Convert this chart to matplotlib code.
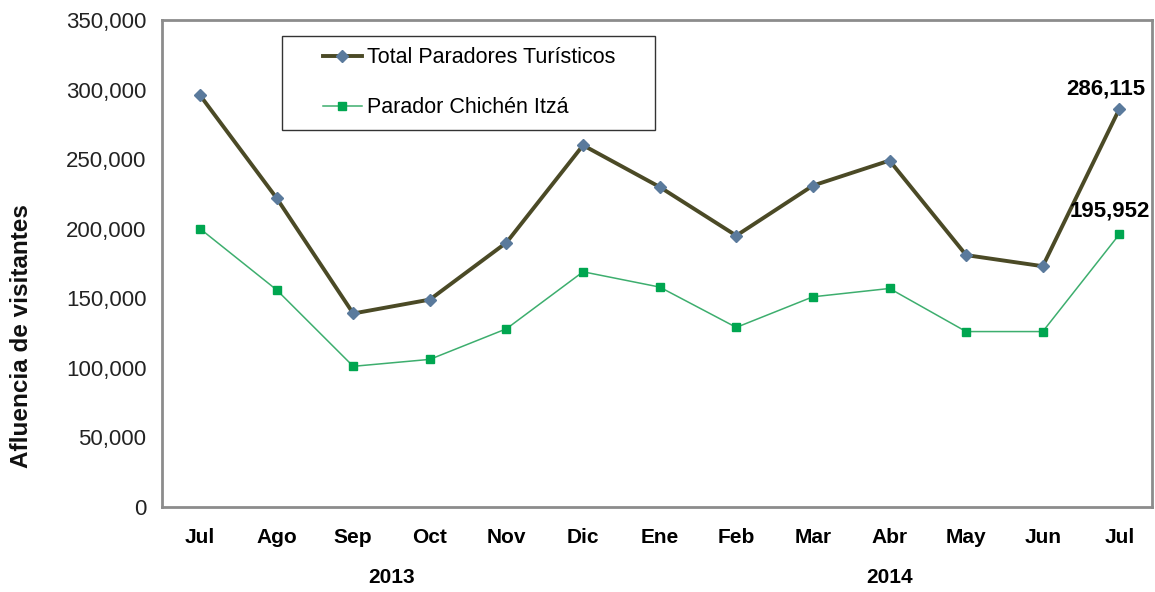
import matplotlib
matplotlib.use("Agg")
import matplotlib.pyplot as plt
from matplotlib.patches import Rectangle
from matplotlib.ticker import FuncFormatter

plt.rcParams["font.family"] = ["Liberation Sans", "DejaVu Sans"]

months = ["Jul", "Ago", "Sep", "Oct", "Nov", "Dic", "Ene", "Feb", "Mar", "Abr", "May", "Jun", "Jul"]
total = [296000, 222000, 139000, 149000, 190000, 260000, 230000, 195000, 231000, 249000, 181000, 173000, 286115]
chichen = [200000, 156000, 101000, 106000, 128000, 169000, 158000, 129000, 151000, 157000, 126000, 126000, 195952]
years = ["2013", "2014"]
year_pos = [2.5, 9]

x = list(range(len(months)))

fig = plt.figure(figsize=(11.55, 5.92), dpi=100)
ax = fig.add_axes([0.140, 0.144, 0.857, 0.822])

ax.plot(x, total, color="#4b4a26", lw=2.8, marker="D", ms=6.5,
        mfc="#5a7a9c", mec="#5a7a9c", label="Total Paradores Turísticos")
ax.plot(x, chichen, color="#3dae6e", lw=1.1, marker="s", ms=6,
        mfc="#00a650", mec="#00a650", label="Parador Chichén Itzá")

ax.set_xlim(-0.5, 12.42)
ax.set_ylim(0, 350000)
ax.set_yticks(range(0, 350001, 50000))
ax.yaxis.set_major_formatter(FuncFormatter(lambda v, p: f"{int(v):,}"))
ax.set_xticks(x)
ax.set_xticklabels(months, fontweight="bold", fontsize=15)
ax.tick_params(axis="both", length=0)
ax.tick_params(axis="y", labelsize=16, pad=11, labelcolor="#222222")
ax.tick_params(axis="x", pad=15)

for s in ax.spines.values():
    s.set_color("#8c8c8c")
    s.set_linewidth(2)

fig.text(22 / 1155, 1 - 336 / 592, "Afluencia de visitantes", rotation=90,
         ha="center", va="center", fontsize=17.5, fontweight="bold", color="#111111")

for yr, pos in zip(years, year_pos):
    ax.text(pos, -0.146, yr, transform=ax.get_xaxis_transform(), ha="center", va="center",
            fontsize=15, fontweight="bold")

ax.annotate(f"{total[-1]:,}", (x[-1], total[-1]), xytext=(-10, 7), textcoords="offset points",
            ha="center", va="bottom", fontsize=16, fontweight="bold")
ax.annotate(f"{chichen[-1]:,}", (x[-1], chichen[-1]), xytext=(-7, 9), textcoords="offset points",
            ha="center", va="bottom", fontsize=16, fontweight="bold")

ax.add_patch(Rectangle((0.1212, 0.774), 0.377, 0.193, transform=ax.transAxes,
                       fill=False, ec="#333333", lw=1, zorder=5))
leg = ax.legend(loc="center left", bbox_to_anchor=(0.163, 0.8716), frameon=False,
                fontsize=15.5, handlelength=1.8, handletextpad=0.25,
                borderpad=0, labelspacing=1.35, borderaxespad=0)

fig.savefig("out.png", dpi=100)
